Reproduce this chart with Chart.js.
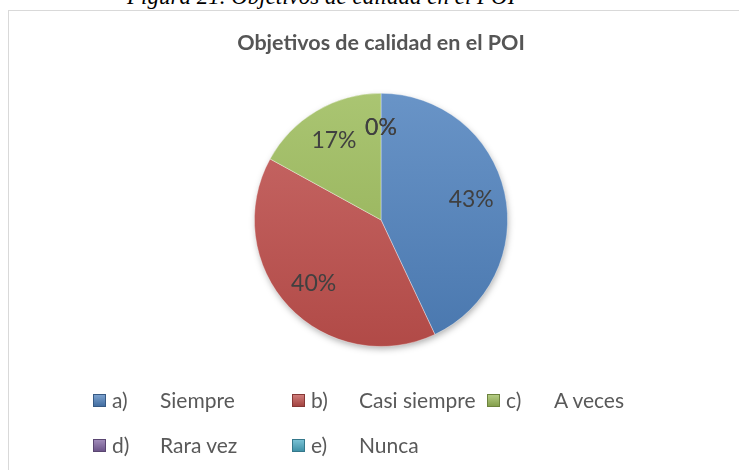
<!DOCTYPE html>
<html>
<head>
<meta charset="utf-8">
<script src="https://cdn.jsdelivr.net/npm/chart.js@4.4.0/dist/chart.umd.min.js"></script>
<style>
  html, body { margin: 0; padding: 0; background: #fff; overflow: hidden; }
  #wrap { position: relative; width: 739px; height: 470px; overflow: hidden; }
  #caption { position: absolute; left: 127px; top: -16px; font: italic 23px "Liberation Serif", serif; color: #000; white-space: nowrap; }
  #box { position: absolute; left: 8px; top: 10px; width: 800px; height: 500px; border: 1.5px solid #d9d9d9; }
  #grafico { position: absolute; left: 0; top: 0; }
  .item { position: absolute; white-space: nowrap; font: 21px Lato, sans-serif; color: #595959; line-height: 24px; }
  .item span { position: absolute; top: 0; }
  .marca { position: absolute; width: 13px; height: 13px; top: 6px; left: 0; box-sizing: border-box; }
</style>
</head>
<body>
<div id="wrap">
  <div id="caption">Figura 21. Objetivos de calidad en el POI</div>
  <div id="box"></div>
  <canvas id="grafico" width="739" height="470"></canvas>
  <div id="leyenda"></div>
</div>
<script>
// datos del grafico
const letras = ['a)', 'b)', 'c)', 'd)', 'e)'];
const opciones = ['Siempre', 'Casi siempre', 'A veces', 'Rara vez', 'Nunca'];
const porcentajes = [43, 40, 17, 0, 0];
const colores = ['#4f81bd', '#c0504d', '#9bbb59', '#8064a2', '#4bacc6'];

// aclarar / oscurecer un color hex
function tono(hex, f) {
    const n = parseInt(hex.slice(1), 16);
    let r = (n >> 16) & 255, g = (n >> 8) & 255, b = n & 255;
    if (f > 0) {
        r += (255 - r) * f; g += (255 - g) * f; b += (255 - b) * f;
    } else {
        r *= 1 + f; g *= 1 + f; b *= 1 + f;
    }
    return `rgb(${Math.round(r)}, ${Math.round(g)}, ${Math.round(b)})`;
}

// sombra bajo el pastel
const sombra = {
    id: 'sombra',
    beforeDatasetsDraw(chart) {
        const arc = chart.getDatasetMeta(0).data[0];
        if (!arc) return;
        const ctx = chart.ctx;
        ctx.save();
        ctx.shadowColor = 'rgba(0, 0, 0, 0.35)';
        ctx.shadowBlur = 7;
        ctx.shadowOffsetY = 3;
        ctx.shadowOffsetX = 1;
        ctx.fillStyle = '#ffffff';
        ctx.beginPath();
        ctx.arc(arc.x, arc.y, arc.outerRadius - 1, 0, Math.PI * 2);
        ctx.fill();
        ctx.restore();
    }
};

// etiquetas de porcentaje dentro de cada sector
const etiquetas = {
    id: 'etiquetas',
    afterDatasetsDraw(chart) {
        const ctx = chart.ctx;
        const meta = chart.getDatasetMeta(0);
        ctx.save();
        ctx.font = '23px Lato, sans-serif';
        ctx.fillStyle = '#404040';
        ctx.textAlign = 'center';
        ctx.textBaseline = 'middle';
        meta.data.forEach((arc, i) => {
            const medio = (arc.startAngle + arc.endAngle) / 2;
            const r = arc.outerRadius * 0.73;
            ctx.fillText(porcentajes[i] + '%', arc.x + Math.cos(medio) * r, arc.y + Math.sin(medio) * r);
        });
        ctx.restore();
    }
};

const chart = new Chart(document.getElementById('grafico'), {
    type: 'pie',
    data: {
        labels: opciones,
        datasets: [{
            data: porcentajes,
            backgroundColor: (c) => {
                const area = c.chart.chartArea;
                const base = colores[c.dataIndex];
                if (!area) return base;
                const g = c.chart.ctx.createLinearGradient(0, area.top, 0, area.bottom);
                g.addColorStop(0, tono(base, 0.15));
                g.addColorStop(1, tono(base, -0.08));
                return g;
            },
            borderColor: 'rgba(255, 255, 255, 0.35)',
            borderWidth: 1
        }]
    },
    options: {
        responsive: false,
        animation: false,
        layout: { padding: { left: 130, right: 107, top: 0, bottom: 123 } },
        plugins: {
            legend: { display: false },
            tooltip: { enabled: false },
            title: {
                display: true,
                text: 'Objetivos de calidad en el POI',
                color: '#555555',
                font: { family: 'Lato', size: 21.5, weight: 'bold' },
                padding: { top: 30, bottom: 37 }
            }
        }
    },
    plugins: [sombra, etiquetas]
});

// leyenda en dos filas con columnas fijas
const columnas = [93, 292, 487];
const filas = [388, 433];
const leyenda = document.getElementById('leyenda');
letras.forEach((letra, i) => {
    const item = document.createElement('div');
    item.className = 'item';
    item.style.left = columnas[i % 3] + 'px';
    item.style.top = filas[Math.floor(i / 3)] + 'px';
    const c = colores[i];
    item.innerHTML =
        `<div class="marca" style="background: linear-gradient(180deg, ${tono(c, 0.25)}, ${tono(c, -0.15)}); border: 1px solid ${tono(c, -0.3)}"></div>` +
        `<span style="left:19px">${letra}</span><span style="left:67px">${opciones[i]}</span>`;
    leyenda.appendChild(item);
});
</script>
</body>
</html>
